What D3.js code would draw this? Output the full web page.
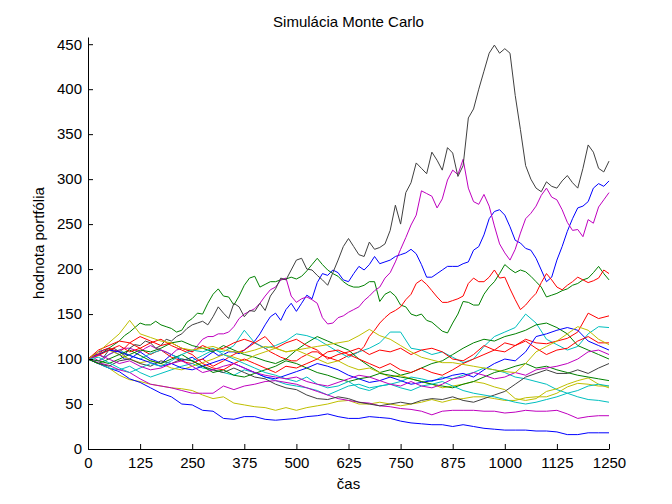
<!DOCTYPE html>
<html>
<head>
<meta charset="utf-8">
<script src="https://cdn.jsdelivr.net/npm/d3@7"></script>
<style>
  html, body { margin: 0; padding: 0; background: #fff; }
  svg { display: block; }
  text { font-family: "Liberation Sans", Arial, Helvetica, sans-serif; }
</style>
</head>
<body>
<svg id="chart" width="672" height="504"></svg>
<script>
// ---- data ----
const chartTitle = "Simulácia Monte Carlo";
const xLabel = "čas";
const yLabel = "hodnota portfólia";
const xTicks = [0, 125, 250, 375, 500, 625, 750, 875, 1000, 1125, 1250];
const yTicks = [0, 50, 100, 150, 200, 250, 300, 350, 400, 450];

// coarse sampling (every 25 steps)
const time = [0, 25, 50, 75, 100, 125, 150, 175, 200, 225,
  250, 275, 300, 325, 350, 375, 400, 425, 450, 475,
  500, 525, 550, 575, 600, 625, 650, 675, 700, 725,
  750, 775, 800, 825, 850, 875, 900, 925, 950, 975,
  1000, 1025, 1050, 1075, 1100, 1125, 1150, 1175, 1200, 1225, 1250];

// fine sampling (every 12.5 steps) for the clearly visible upper paths
const timeFine = [0, 12.5, 25, 37.5, 50, 62.5, 75, 87.5, 100, 112.5,
  125, 137.5, 150, 162.5, 175, 187.5, 200, 212.5, 225, 237.5,
  250, 262.5, 275, 287.5, 300, 312.5, 325, 337.5, 350, 362.5,
  375, 387.5, 400, 412.5, 425, 437.5, 450, 462.5, 475, 487.5,
  500, 512.5, 525, 537.5, 550, 562.5, 575, 587.5, 600, 612.5,
  625, 637.5, 650, 662.5, 675, 687.5, 700, 712.5, 725, 737.5,
  750, 762.5, 775, 787.5, 800, 812.5, 825, 837.5, 850, 862.5,
  875, 887.5, 900, 912.5, 925, 937.5, 950, 962.5, 975, 987.5,
  1000, 1012.5, 1025, 1037.5, 1050, 1062.5, 1075, 1087.5, 1100, 1112.5,
  1125, 1137.5, 1150, 1162.5, 1175, 1187.5, 1200, 1212.5, 1225, 1237.5, 1250];

const blue1 = [100,104,108,110,112,108,105,100,100,104, 108,104,100,98,95,100,105,102,98,100, 102,98,100,104,108,104,105,108,108,106, 110,115,120,128,138,147,151,143,155,162, 153,162,171,167,185,195,193,199,196,188, 186,195,203,199,205,214,206,208,210,214, 216,218,222,217,205,191,191,195,199,203, 203,203,206,208,221,225,238,256,264,266, 260,247,232,229,223,221,212,199,186,191, 210,225,242,256,268,270,275,290,295,292, 298];
const green1 = [100,103,105,108,112,116,120,126,130,135, 140,138,138,142,138,136,134,130,132,141, 145,151,150,162,172,178,170,169,160,170, 182,190,192,180,183,186,186,188,189,191, 189,192,198,205,212,205,199,195,192,186, 182,180,180,182,186,186,164,172,175,170, 160,158,150,148,150,143,141,136,131,129, 140,150,164,163,160,160,172,180,186,195, 205,200,196,199,197,192,186,180,169,171, 173,176,178,182,184,188,190,196,203,195, 188];
const red1 = [100,104,106,110,112,110,108,112,118,115, 112,108,105,108,110,106,102,100,98,96, 95,98,100,96,92,95,98,102,105,108, 110,114,118,115,112,108,105,102,100,98, 98,102,105,108,108,104,102,100,98,101, 104,106,108,114,125,132,140,146,151,154, 158,166,172,184,188,183,176,169,163,163, 165,167,170,184,190,186,186,191,199,190, 191,178,166,155,160,167,173,185,195,188, 180,177,182,186,191,188,185,187,190,199, 195];
const cyan1 = [100,98,105,110,104,100,106,110,105,100, 98,104,110,108,115,132,118,112,115,120, 128,126,122,115,108,102,108,112,118,130, 130,112,110,105,108,102,96,100,114,125, 130,135,150,140,122,116,110,114,128,136,135];
const magenta1 = [100,102,98,100,105,108,110,112,112,110, 108,112,115,112,110,108,105,110,112,110, 108,115,122,125,125,128,128,130,136,145, 150,153,156,162,170,177,180,188,190,170, 163,167,169,166,162,146,139,140,146,148, 152,155,158,165,170,176,180,190,196,208, 222,235,249,260,287,284,281,268,278,299, 310,305,322,290,275,272,283,270,248,228, 218,210,222,240,256,262,270,282,290,280, 277,266,252,243,244,236,255,251,269,277, 285];
const yellow1 = [100,95,90,82,77,75,72,70,68,67, 65,60,56,58,51,49,47,46,43,46, 43,46,48,50,53,54,50,50,52,50, 48,50,52,55,52,55,56,58,58,56, 54,54,57,58,58,62,69,73,72,70,70];
const gray1 = [100,104,105,102,110,112,108,104,112,116, 115,120,118,112,115,122,120,125,128,134, 138,140,142,138,147,158,151,145,162,158, 147,154,153,162,154,170,178,190,188,199, 210,212,200,199,193,188,182,196,210,225, 234,225,216,214,230,222,224,228,243,271, 250,285,296,318,312,306,330,321,310,335, 329,303,315,368,378,400,420,440,449,440, 445,440,393,355,315,300,290,286,297,292, 290,298,304,296,290,312,338,330,312,308, 320];
const blue2 = [100,95,90,86,78,74,68,62,58,50, 49,43,42,34,33,36,36,33,32,33, 34,36,37,39,36,34,34,36,35,34, 31,29,28,27,27,25,27,25,23,22, 21,21,21,20,20,19,16,16,18,18,18];
const green2 = [100,98,95,100,105,110,108,112,118,120, 115,112,108,115,110,105,102,98,95,100, 110,118,125,120,115,110,100,92,85,88, 82,85,90,95,98,105,112,118,122,120, 125,128,132,138,140,135,128,115,110,105,100];
const red2 = [100,110,115,120,118,125,120,115,118,112, 108,115,110,112,118,122,118,125,112,118, 122,115,110,100,105,108,112,105,110,108, 112,105,110,112,108,100,98,105,115,110, 118,115,122,118,117,120,123,130,151,145,148];
const cyan2 = [100,95,90,88,92,85,80,84,88,92, 95,90,88,85,82,88,85,80,76,72, 70,68,65,60,65,70,72,68,70,72, 75,80,78,75,80,78,82,85,90,88, 85,80,78,75,72,66,62,58,55,54,52];
const magenta2 = [100,96,93,88,85,78,72,70,68,65, 62,62,62,70,66,70,72,75,76,74, 72,68,64,60,56,54,52,51,48,47, 45,44,42,38,42,43,43,43,42,42, 40,41,43,42,42,43,39,34,36,37,37];
const yellow2 = [100,104,110,105,100,96,98,95,90,88, 92,96,100,105,102,98,104,108,112,108, 110,105,100,95,98,92,88,90,85,80, 82,78,75,72,68,70,72,75,73,69, 66,56,54,56,64,67,72,76,79,72,68];
const gray2 = [100,95,92,98,100,95,92,98,95,100, 98,92,88,85,90,85,80,78,72,68, 66,60,56,55,58,56,52,50,48,50, 52,50,54,56,55,58,54,52,56,60, 64,72,80,84,88,84,84,88,84,90,95];
const blue3 = [100,105,110,108,104,100,96,92,95,90, 88,92,96,100,95,90,85,80,78,82, 86,90,95,92,88,82,78,74,76,80, 76,72,74,76,78,82,84,80,88,95, 100,98,108,125,128,132,135,132,120,115,110];
const green3 = [100,95,100,105,110,104,98,95,100,105, 98,92,85,88,82,80,84,88,92,98, 95,90,85,82,78,75,78,80,84,82, 80,78,75,72,70,68,72,75,80,85, 88,92,95,90,92,88,85,82,80,78,76];
const red3 = [100,104,110,115,108,112,118,122,115,110, 105,95,90,88,95,100,95,90,85,92, 90,95,100,108,110,105,100,95,90,95, 88,85,90,85,82,88,95,100,105,110, 108,115,120,112,105,110,112,120,125,118,118];
const cyan3 = [100,102,96,90,85,90,95,92,98,105, 110,108,112,105,100,95,90,85,82,78, 75,80,72,68,70,75,68,65,70,72, 68,65,70,72,75,70,65,62,60,58, 55,52,50,52,55,58,62,65,70,72,70];
const magenta3 = [100,105,100,95,98,92,88,90,95,98, 92,85,88,92,95,90,85,82,80,78, 80,75,72,70,74,78,82,80,76,72, 70,75,70,68,72,78,80,85,82,78, 80,85,82,88,90,92,95,100,108,110,105];
const yellow3 = [100,108,118,128,143,128,124,120,118,112, 110,112,114,110,108,107,110,114,112,108, 110,112,114,116,118,120,126,133,126,122, 115,108,102,99,96,96,94,92,90,88, 86,85,95,108,114,120,128,136,132,122,116];

// plotting order and colours (MATLAB default colour order)
const seriesValues = [blue1, green1, red1, cyan1, magenta1, yellow1, gray1,
                      blue2, green2, red2, cyan2, magenta2, yellow2, gray2,
                      blue3, green3, red3, cyan3, magenta3, yellow3];
const colorOrder = ["#0000ff", "#008000", "#ff0000", "#00bfbf", "#bf00bf", "#bfbf00", "#404040"];

// ---- drawing ----
const W = 672, H = 504;
const margin = {left: 88, right: 63, top: 37, bottom: 55};
const svg = d3.select("#chart");
svg.append("rect").attr("width", W).attr("height", H).attr("fill", "#fff");

const x = d3.scaleLinear().domain([0, 1250]).range([margin.left, W - margin.right]);
const y = d3.scaleLinear().domain([0, 458]).range([H - margin.bottom, margin.top]);

const g = svg.append("g");
seriesValues.forEach((vals, k) => {
  const tt = vals.length === timeFine.length ? timeFine : time;
  const line = d3.line().x((d, i) => x(tt[i])).y(d => y(d));
  g.append("path")
    .datum(vals)
    .attr("fill", "none")
    .attr("stroke", colorOrder[k % colorOrder.length])
    .attr("stroke-width", 1)
    .attr("d", line);
});

const fontSize = 15;
const xAxis = d3.axisBottom(x).tickValues(xTicks).tickFormat(d3.format("d"))
  .tickSizeInner(-5).tickSizeOuter(0).tickPadding(8);
const yAxis = d3.axisLeft(y).tickValues(yTicks).tickFormat(d3.format("d"))
  .tickSizeInner(-5).tickSizeOuter(0).tickPadding(6);

const gx = svg.append("g").attr("transform", `translate(0,${H - margin.bottom})`).call(xAxis);
const gy = svg.append("g").attr("transform", `translate(${margin.left},0)`).call(yAxis);
[gx, gy].forEach(a => {
  a.selectAll("text").attr("font-size", fontSize).attr("fill", "#000")
    .attr("font-family", '"Liberation Sans", Arial, sans-serif');
  a.selectAll("line").attr("stroke", "#000");
  a.select(".domain").attr("stroke", "#000");
});

svg.append("text")
  .attr("x", (margin.left + W - margin.right) / 2)
  .attr("y", 27)
  .attr("text-anchor", "middle")
  .attr("font-size", fontSize)
  .text(chartTitle);

svg.append("text")
  .attr("x", (margin.left + W - margin.right) / 2)
  .attr("y", 489)
  .attr("text-anchor", "middle")
  .attr("font-size", fontSize)
  .text(xLabel);

svg.append("text")
  .attr("transform", `translate(44,${(margin.top + H - margin.bottom) / 2}) rotate(-90)`)
  .attr("text-anchor", "middle")
  .attr("font-size", fontSize)
  .text(yLabel);
</script>
</body>
</html>
